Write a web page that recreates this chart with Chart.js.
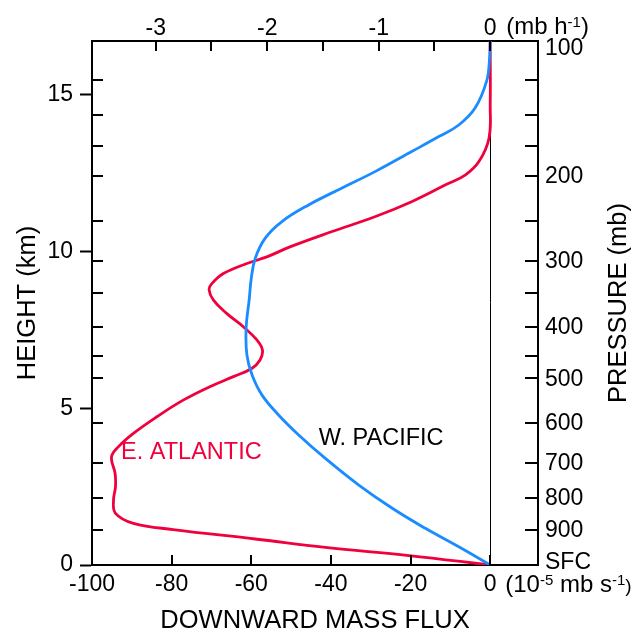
<!DOCTYPE html>
<html lang="en">
<head>
<meta charset="UTF-8">
<title>Downward mass flux</title>
<script src="https://cdn.jsdelivr.net/npm/chart.js"></script>
<style>
  html, body { margin: 0; padding: 0; background: #fff; }
  #wrap { width: 639px; height: 632px; }
</style>
</head>
<body>
<div id="wrap"><canvas id="flux" width="639" height="632"></canvas></div>
<script>
// W. Pacific profile: height (km) and downward mass flux (1e-5 mb/s)
const pacificHeight = [0, 0.58, 1.17, 1.81, 2.55, 3.40, 4.15, 4.78, 5.42, 6.06, 6.70, 7.55, 8.50, 9.15, 9.79, 10.43, 10.96, 11.49, 12.03, 12.56, 13.20, 13.67, 14.04, 14.58, 15.44, 16.10, 16.72];
const pacificFlux   = [0, -7.9, -16.3, -24.6, -33.0, -41.4, -48.1, -53.1, -57.3, -59.8, -61.1, -61.3, -60.5, -60.0, -59.0, -56.5, -52.3, -45.6, -37.2, -28.8, -19.6, -12.9, -7.9, -3.8, -0.9, -0.2, 0];

// E. Atlantic profile
const atlanticHeight = [0, 0.30, 0.56, 0.83, 1.13, 1.33, 1.65, 2.07, 2.50, 2.92, 3.45, 3.77, 4.20, 4.73, 5.26, 5.69, 6.01, 6.27, 6.54, 6.86, 7.18, 7.60, 8.03, 8.45, 8.79, 8.98, 9.30, 9.62, 9.83, 10.15, 10.64, 11.12, 11.60, 12.13, 12.45, 12.88, 13.62, 14.68, 16.72];
const atlanticFlux   = [0, -20.4, -41.4, -59.0, -79.6, -89.6, -94.1, -94.6, -94.1, -94.2, -95.1, -93.4, -89.6, -83.7, -77.1, -70.4, -64.5, -59.9, -57.8, -57.2, -58.6, -62.0, -66.2, -69.5, -70.6, -69.9, -67.0, -61.1, -56.1, -50.3, -39.7, -28.8, -19.6, -11.2, -6.2, -2.8, -0.3, 0, 0];

// axes
const fluxTicks = [-100, -80, -60, -40, -20, 0];
const mbPerHourTicks = [-3, -2.5, -2, -1.5, -1, -0.5, 0];
const mbPerHourLabels = ['-3', '', '-2', '', '-1', '', '0'];
const heightTicks = [0, 5, 10, 15];
const pressureLabels  = ['SFC', '900', '800', '700', '600', '500', '', '400', '', '300', '', '200', '', '', '', '100'];
const pressureHeights = [0, 1.12, 2.15, 3.26, 4.54, 5.96, 6.67, 7.59, 8.68, 9.71, 10.98, 12.41, 13.38, 14.35, 15.47, 16.72];

const fluxMin = -100, fluxMax = 12;
const heightMax = 16.72;
const fluxPerMbHour = 28; // 1 mb/h in 1e-5 mb/s, as drawn on the top axis

const FONT = '"Liberation Sans", Arial, Helvetica, sans-serif';
const RED = '#f0003c';
const BLUE = '#1a8cff';

Chart.defaults.font.family = FONT;
Chart.defaults.color = '#000';

function fixSize(w, h) {
    return function(scale) {
        if (w !== null) scale.width = w;
        if (h !== null) scale.height = h;
    };
}

// text with superscript parts, left aligned at x on baseline y
function drawRich(ctx, parts, x, y) {
    let cx = x;
    parts.forEach(p => {
        ctx.font = p.size + 'px ' + FONT;
        ctx.fillText(p.t, cx, y - (p.raise || 0));
        cx += ctx.measureText(p.t).width;
    });
}

const decorPlugin = {
    id: 'decor',
    afterDatasetsDraw(chart) {
        const ctx = chart.ctx;
        const a = chart.chartArea;
        const xs = chart.scales.x, xt = chart.scales.x2, ys = chart.scales.y;
        ctx.save();
        ctx.strokeStyle = '#000';
        ctx.lineWidth = 2;
        ctx.beginPath();
        fluxTicks.forEach(v => {
            const px = Math.round(xs.getPixelForValue(v));
            ctx.moveTo(px, a.bottom); ctx.lineTo(px, a.bottom - 10);
        });
        mbPerHourTicks.forEach(v => {
            const px = Math.round(xt.getPixelForValue(v));
            ctx.moveTo(px, a.top); ctx.lineTo(px, a.top + 10);
        });
        pressureHeights.forEach(h => {
            const py = Math.round(ys.getPixelForValue(h));
            ctx.moveTo(a.left, py); ctx.lineTo(a.left + 11, py);
            ctx.moveTo(a.right, py); ctx.lineTo(a.right - 13, py);
        });
        ctx.stroke();

        ctx.fillStyle = '#000';
        ctx.font = '23px ' + FONT;
        ctx.textBaseline = 'alphabetic';

        // top axis labels (mb/h)
        ctx.textAlign = 'center';
        mbPerHourTicks.forEach((v, i) => {
            if (mbPerHourLabels[i]) ctx.fillText(mbPerHourLabels[i], xt.getPixelForValue(v), 35);
        });

        // pressure labels on the right
        ctx.textAlign = 'left';
        ctx.textBaseline = 'middle';
        pressureHeights.forEach((h, i) => {
            if (!pressureLabels[i]) return;
            let py = ys.getPixelForValue(h);
            py = Math.max(py, a.top + 7);
            py = Math.min(py, a.bottom - 3);
            ctx.fillText(pressureLabels[i], a.right + 7, py + 1);
        });

        // units next to the zero labels
        ctx.textBaseline = 'alphabetic';
        const x0 = xs.getPixelForValue(0) + 15;
        drawRich(ctx, [
            {t: '(10', size: 24}, {t: '-5', size: 15, raise: 7},
            {t: ' mb s', size: 24}, {t: '-1', size: 15, raise: 7}, {t: ')', size: 19}
        ], x0, 592);
        drawRich(ctx, [
            {t: '(mb h', size: 24}, {t: '-1', size: 15, raise: 7}, {t: ')', size: 24}
        ], x0 + 1, 34);

        // curve names
        ctx.font = '23.5px ' + FONT;
        ctx.fillStyle = RED;
        ctx.textAlign = 'left';
        ctx.textBaseline = 'middle';
        ctx.fillText('E. ATLANTIC', xs.getPixelForValue(-92.7), ys.getPixelForValue(3.59));
        ctx.fillStyle = '#000';
        ctx.textAlign = 'center';
        ctx.fillText('W. PACIFIC', xs.getPixelForValue(-27.4), ys.getPixelForValue(4.05));

        // axis titles
        ctx.font = '25.5px ' + FONT;
        ctx.textAlign = 'center';
        ctx.textBaseline = 'alphabetic';
        ctx.fillText('DOWNWARD MASS FLUX', (a.left + a.right) / 2, 628);
        const midY = (a.top + a.bottom) / 2;
        ctx.save();
        ctx.translate(35, midY);
        ctx.rotate(-Math.PI / 2);
        ctx.fillText('HEIGHT (km)', 0, 0);
        ctx.restore();
        ctx.save();
        ctx.translate(626, midY);
        ctx.rotate(-Math.PI / 2);
        ctx.fillText('PRESSURE (mb)', 0, 0);
        ctx.restore();
        ctx.restore();
    }
};

function toPoints(heights, flux) {
    return heights.map((h, i) => ({x: flux[i], y: h}));
}

new Chart(document.getElementById('flux'), {
    type: 'scatter',
    data: {
        datasets: [
            {
                label: 'W. PACIFIC',
                data: toPoints(pacificHeight, pacificFlux),
                showLine: true,
                borderColor: BLUE,
                borderWidth: 2.8,
                pointRadius: 0,
                tension: 0.4
            },
            {
                label: 'E. ATLANTIC',
                data: toPoints(atlanticHeight, atlanticFlux),
                showLine: true,
                borderColor: RED,
                borderWidth: 2.8,
                pointRadius: 0,
                tension: 0.4
            }
        ]
    },
    options: {
        responsive: false,
        animation: false,
        layout: {padding: 0},
        plugins: {legend: {display: false}, tooltip: {enabled: false}},
        scales: {
            x: {
                type: 'linear', position: 'bottom',
                min: fluxMin, max: fluxMax,
                afterBuildTicks: s => { s.ticks = fluxTicks.map(v => ({value: v})); },
                afterFit: fixSize(null, 67),
                border: {display: true, color: '#000', width: 2},
                grid: {
                    drawTicks: false,
                    color: c => (c.tick && c.tick.value === 0) ? '#000' : 'rgba(0,0,0,0)',
                    lineWidth: 1
                },
                ticks: {font: {size: 23}, padding: 6, maxRotation: 0, callback: v => String(v)}
            },
            x2: {
                type: 'linear', position: 'top',
                min: fluxMin / fluxPerMbHour, max: fluxMax / fluxPerMbHour,
                afterBuildTicks: s => { s.ticks = mbPerHourTicks.map(v => ({value: v})); },
                afterFit: fixSize(null, 41),
                border: {display: true, color: '#000', width: 2},
                grid: {display: false},
                ticks: {display: false}
            },
            y: {
                type: 'linear', position: 'left',
                min: 0, max: heightMax,
                afterBuildTicks: s => { s.ticks = heightTicks.map(v => ({value: v})); },
                afterFit: fixSize(92, null),
                border: {display: true, color: '#000', width: 2},
                grid: {drawOnChartArea: false, drawTicks: true, tickLength: 12, tickColor: '#000', tickWidth: 2},
                ticks: {font: {size: 23}, padding: 7, callback: v => String(v)}
            },
            yp: {
                type: 'linear', position: 'right',
                min: 0, max: heightMax,
                afterBuildTicks: s => { s.ticks = pressureHeights.map(v => ({value: v})); },
                afterFit: fixSize(101, null),
                border: {display: true, color: '#000', width: 2},
                grid: {display: false},
                ticks: {display: false}
            }
        }
    },
    plugins: [decorPlugin]
});
</script>
</body>
</html>
